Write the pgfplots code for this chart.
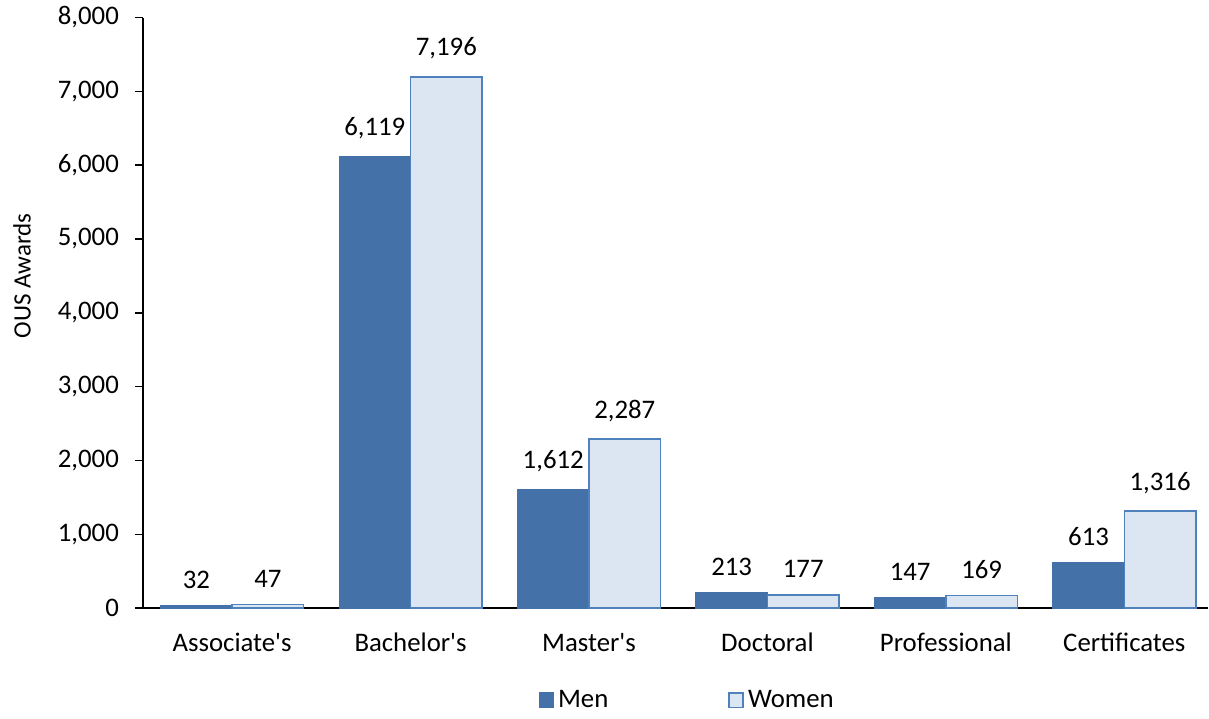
\documentclass[border=0pt]{standalone}
\usepackage{pgfplots}
\pgfplotsset{compat=1.18}
\usepackage{fontspec}
\setmainfont{Carlito}
\definecolor{menc}{RGB}{68,114,168}
\definecolor{womenc}{RGB}{220,230,242}
\definecolor{edgec}{RGB}{79,129,189}
\begin{document}
\begin{tikzpicture}
\begin{axis}[
  at={(0,0)}, anchor=south west,
  scale only axis, width=533pt, height=295.5pt,
  ybar=0pt, bar width=35.8pt,
  xmin=-0.5, xmax=5.47, ymin=0, ymax=8000,
  xtick={0,1,2,3,4,5},
  xticklabels={Associate\textquotesingle s,Bachelor\textquotesingle s,Master\textquotesingle s,Doctoral,Professional,Certificates},
  ytick={0,1000,...,8000},
  axis x line=bottom, axis y line=left,
  axis line style={-, line width=0.8pt},
  x tick style={draw=none},
  y tick style={line width=0.8pt, black},
  tick align=outside, major tick length=4pt,
  yticklabel style={xshift=-4.5pt, /pgf/number format/.cd, fixed, 1000 sep={,}},
  /pgf/number format/assume math mode=true,
  tick label style={font=\fontsize{13.4}{15}\selectfont},
  xticklabel style={yshift=-5pt},
  ylabel={OUS Awards},
  ylabel style={font=\fontsize{12.5}{14}\selectfont, at={(axis description cs:-0.1135,0.5626)}, anchor=center},
  nodes near coords,
  every node near coord/.append style={font=\fontsize{13.4}{15}\selectfont, yshift=5pt, /pgf/number format/.cd, fixed, 1000 sep={,}, assume math mode=true},
  legend columns=2,
  legend style={draw=none, at={(rel axis cs:0.512,-0.156)}, anchor=center,
    font=\fontsize{13.4}{15}\selectfont, /tikz/every even column/.append style={column sep=58pt}},
  legend image code/.code={\draw[#1] (0cm,-0.13cm) rectangle (0.25cm,0.13cm);},
]
\addplot[fill=menc, draw=menc] coordinates {(0,32) (1,6119) (2,1612) (3,213) (4,147) (5,613)};
\addplot[fill=womenc, draw=edgec, line width=0.8pt] coordinates {(0,47) (1,7196) (2,2287) (3,177) (4,169) (5,1316)};
\legend{Men,Women}
\end{axis}
\path[use as bounding box] (-71.5pt,-52pt) rectangle (533pt,304pt);
\end{tikzpicture}
\end{document}
